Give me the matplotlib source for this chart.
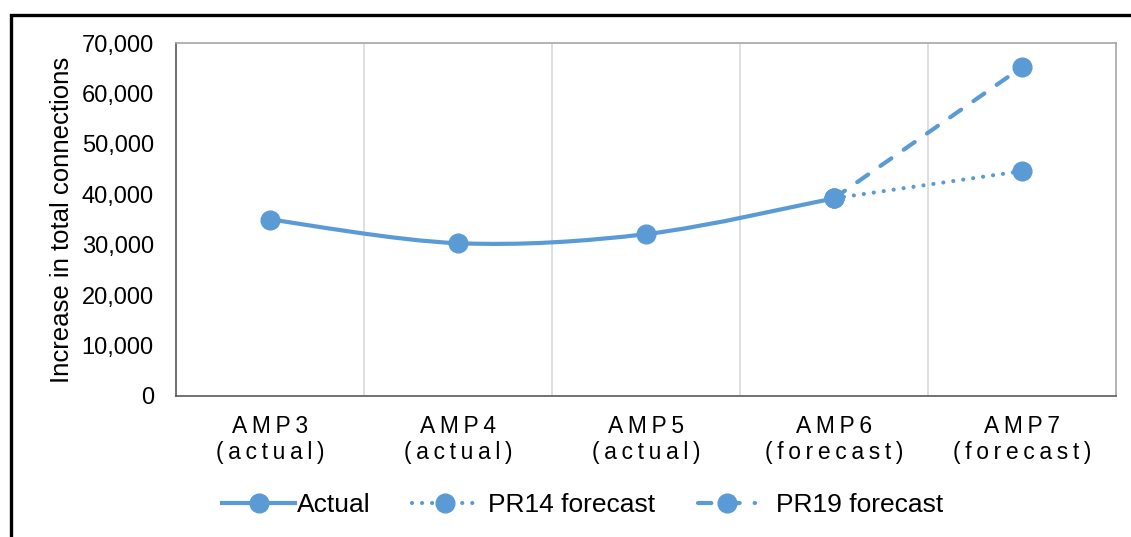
import numpy as np
import matplotlib.pyplot as plt
from matplotlib.path import Path
from matplotlib.patches import PathPatch, Rectangle
from matplotlib.lines import Line2D
from matplotlib.ticker import StrMethodFormatter, FixedLocator

plt.rcParams["font.family"] = ["Liberation Sans", "DejaVu Sans"]

periods = ["AMP3", "AMP4", "AMP5", "AMP6", "AMP7"]
period_kind = ["actual", "actual", "actual", "forecast", "forecast"]
actual = [35000, 30300, 32100, 39200]
pr14_forecast = [39200, 44600]
pr19_forecast = [39200, 65200]

blue = "#5B9BD5"
dotted = (0.01, 2.4)
dashed = (3.2, 3.6)


def spaced(s):
    # letter-spaced category text
    return "\u2009".join(s)


def smooth_path(xs, ys):
    # Catmull-Rom style bezier through the points (like a spreadsheet "smoothed line")
    pts = np.column_stack([xs, ys]).astype(float)
    n = len(pts)
    verts = [pts[0]]
    codes = [Path.MOVETO]
    for i in range(n - 1):
        p0 = pts[max(i - 1, 0)]
        p1 = pts[i]
        p2 = pts[i + 1]
        p3 = pts[min(i + 2, n - 1)]
        c1 = p1 + (p2 - p0) / 6
        c2 = p2 - (p3 - p1) / 6
        verts += [c1, c2, p2]
        codes += [Path.CURVE4] * 3
    return Path(verts, codes)


fig = plt.figure(figsize=(11.31, 5.37), dpi=100)
ax = fig.add_axes([176 / 1131, 1 - 396 / 537, 940 / 1131, 353 / 537])

x = np.arange(len(periods))
x_act = x[:len(actual)]
x_fc = x[len(actual) - 1:]

curve = PathPatch(smooth_path(x_act, actual), facecolor="none", edgecolor=blue,
                  lw=3, capstyle="round", zorder=3)
ax.add_patch(curve)

ax.plot(x_fc, pr14_forecast, color=blue, lw=3, dashes=dotted,
        dash_capstyle="round", marker="o", ms=13.5, zorder=3)
ax.plot(x_fc, pr19_forecast, color=blue, lw=3, dashes=dashed,
        dash_capstyle="round", marker="o", ms=13.5, zorder=3)
ax.plot(x_act, actual, color=blue, lw=0, marker="o", ms=13.5, zorder=4)

ax.set_xlim(-0.5, len(periods) - 0.5)
ax.set_ylim(0, 70000)
ax.yaxis.set_major_locator(FixedLocator(np.arange(0, 70001, 10000)))
ax.yaxis.set_major_formatter(StrMethodFormatter("{x:,.0f}"))

ax.set_xticks(x)
ax.set_xticklabels([spaced(p) + "\n" + spaced("(" + k + ")")
                    for p, k in zip(periods, period_kind)], fontsize=16.5,
                   linespacing=1.2)
ax.xaxis.set_minor_locator(FixedLocator(x[:-1] + 0.5))
ax.grid(which="minor", axis="x", color="#D9D9D9", lw=1.2)
ax.tick_params(axis="x", which="both", length=0, pad=13.5)
ax.tick_params(axis="y", length=0, pad=16, labelsize=17)

for side in ["top", "right"]:
    ax.spines[side].set_color("#A6A6A6")
for side in ["left", "bottom"]:
    ax.spines[side].set_color("#595959")
for s in ax.spines.values():
    s.set_linewidth(1.2)

fig.text(62 / 1131, 1 - 220 / 537, "Increase in total connections",
         rotation=90, ha="center", va="center", fontsize=18.5)

# legend entries placed one by one, each with its own handle length
legend_items = [
    ("Actual", None, 222, 2.77, 0.08),
    ("PR14 forecast", dotted, 412, 2.5, 0.38),
    ("PR19 forecast", dashed, 698, 2.16, 0.8),
]
for label, dash, left, hlen, tpad in legend_items:
    kw = {} if dash is None else {"dashes": dash, "dash_capstyle": "round"}
    h = Line2D([], [], color=blue, lw=3, marker="o", ms=13.5, **kw)
    fig.legend([h], [label], loc="center left",
               bbox_to_anchor=(left / 1131, 1 - 505 / 537), frameon=False,
               fontsize=19, handlelength=hlen, handletextpad=tpad,
               borderpad=0, borderaxespad=0)

# outer frame around the chart
fig.add_artist(Rectangle((10.5 / 1131, -0.2), 1.5, 1.2 - 14.5 / 537,
                         transform=fig.transFigure, fill=False,
                         edgecolor="black", lw=2.4, clip_on=False))

fig.savefig("out.png", dpi=100)
